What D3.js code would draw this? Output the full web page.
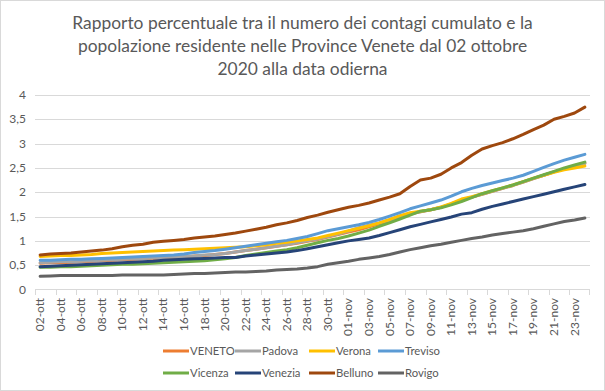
<!DOCTYPE html>
<html>
<head>
<meta charset="utf-8">
<script src="https://cdn.jsdelivr.net/npm/d3@7"></script>
<style>
  body { margin: 0; background: #fff; }
  text { font-family: Lato, "Open Sans", sans-serif; fill: #595959; }
</style>
</head>
<body>
<svg width="605" height="391"></svg>
<script>
// categories (one per day)
const dates = [
  "02-ott","03-ott","04-ott","05-ott","06-ott","07-ott","08-ott","09-ott","10-ott","11-ott",
  "12-ott","13-ott","14-ott","15-ott","16-ott","17-ott","18-ott","19-ott","20-ott","21-ott",
  "22-ott","23-ott","24-ott","25-ott","26-ott","27-ott","28-ott","29-ott","30-ott","31-ott",
  "01-nov","02-nov","03-nov","04-nov","05-nov","06-nov","07-nov","08-nov","09-nov","10-nov",
  "11-nov","12-nov","13-nov","14-nov","15-nov","16-nov","17-nov","18-nov","19-nov","20-nov",
  "21-nov","22-nov","23-nov","24-nov"
];

const titleLines = [
  "Rapporto percentuale tra il numero dei contagi cumulato e la",
  "popolazione residente nelle Province Venete dal 02 ottobre",
  "2020 alla data odierna"
];

const yTicks = [0, 0.5, 1, 1.5, 2, 2.5, 3, 3.5, 4];

// series values
const veneto = [0.54,0.55,0.55,0.56,0.57,0.58,0.59,0.60,0.61,0.62,0.63,0.64,0.65,0.66,0.67,0.69,0.70,0.72,0.74,0.77,
  0.80,0.83,0.86,0.89,0.92,0.95,0.99,1.03,1.08,1.13,1.18,1.23,1.29,1.35,1.41,1.48,1.55,1.60,1.64,1.69,
  1.76,1.84,1.90,1.96,2.02,2.08,2.14,2.21,2.28,2.35,2.42,2.48,2.54,2.60];
const padova = [0.55,0.56,0.57,0.57,0.58,0.59,0.60,0.61,0.62,0.63,0.64,0.65,0.66,0.67,0.68,0.69,0.71,0.72,0.74,0.77,
  0.80,0.83,0.86,0.89,0.92,0.96,1.00,1.04,1.09,1.14,1.20,1.27,1.32,1.37,1.43,1.50,1.56,1.60,1.64,1.69,
  1.76,1.84,1.90,1.96,2.02,2.08,2.14,2.21,2.28,2.35,2.42,2.48,2.54,2.59];
const verona = [0.68,0.69,0.70,0.70,0.71,0.72,0.74,0.75,0.76,0.77,0.78,0.79,0.80,0.81,0.82,0.83,0.84,0.85,0.86,0.87,
  0.88,0.90,0.92,0.95,0.97,1.00,1.03,1.06,1.11,1.16,1.21,1.26,1.31,1.37,1.44,1.52,1.58,1.61,1.64,1.70,
  1.77,1.86,1.91,1.97,2.03,2.09,2.15,2.22,2.29,2.35,2.41,2.46,2.50,2.54];
const treviso = [0.60,0.60,0.61,0.62,0.62,0.63,0.64,0.65,0.66,0.67,0.68,0.69,0.70,0.71,0.73,0.76,0.78,0.80,0.83,0.86,
  0.89,0.92,0.95,0.98,1.01,1.05,1.09,1.15,1.21,1.25,1.29,1.33,1.38,1.44,1.51,1.58,1.66,1.72,1.78,1.84,
  1.92,2.01,2.08,2.14,2.19,2.24,2.29,2.35,2.43,2.51,2.59,2.66,2.72,2.78];
const vicenza = [0.46,0.46,0.47,0.47,0.48,0.49,0.50,0.51,0.52,0.52,0.53,0.54,0.55,0.56,0.57,0.58,0.59,0.61,0.63,0.66,
  0.70,0.73,0.76,0.79,0.82,0.86,0.91,0.96,1.01,1.05,1.10,1.16,1.22,1.30,1.37,1.45,1.53,1.61,1.64,1.68,
  1.74,1.81,1.89,1.97,2.03,2.09,2.15,2.22,2.29,2.36,2.43,2.50,2.56,2.62];
const venezia = [0.47,0.48,0.49,0.50,0.51,0.52,0.53,0.54,0.55,0.56,0.57,0.58,0.60,0.61,0.62,0.63,0.64,0.65,0.66,0.66,
  0.69,0.71,0.73,0.75,0.77,0.80,0.84,0.88,0.92,0.96,1.00,1.03,1.06,1.11,1.17,1.23,1.29,1.34,1.39,1.44,
  1.49,1.55,1.58,1.65,1.71,1.76,1.81,1.86,1.91,1.96,2.01,2.06,2.11,2.16];
const belluno = [0.71,0.73,0.74,0.75,0.77,0.79,0.81,0.84,0.88,0.91,0.93,0.97,0.99,1.01,1.03,1.06,1.08,1.10,1.13,1.16,
  1.20,1.24,1.28,1.33,1.37,1.42,1.48,1.53,1.59,1.64,1.69,1.73,1.78,1.84,1.90,1.97,2.12,2.25,2.29,2.37,
  2.50,2.61,2.76,2.89,2.96,3.02,3.10,3.19,3.29,3.38,3.50,3.56,3.63,3.75];
const rovigo = [0.27,0.28,0.29,0.29,0.29,0.29,0.29,0.29,0.30,0.30,0.30,0.30,0.30,0.31,0.32,0.33,0.33,0.34,0.35,0.36,
  0.36,0.37,0.38,0.40,0.41,0.42,0.44,0.47,0.52,0.55,0.58,0.62,0.65,0.68,0.72,0.77,0.82,0.86,0.90,0.93,
  0.97,1.01,1.05,1.08,1.12,1.15,1.18,1.21,1.25,1.30,1.35,1.40,1.43,1.47];

const seriesNames = ["VENETO","Padova","Verona","Treviso","Vicenza","Venezia","Belluno","Rovigo"];
const seriesValues = [veneto, padova, verona, treviso, vicenza, venezia, belluno, rovigo];
const seriesColors = ["#ED7D31","#A5A5A5","#FFC000","#5B9BD5","#70AD47","#264478","#9E480E","#636363"];

const svg = d3.select("svg");

// chart frame
svg.append("rect")
  .attr("x", 0.5).attr("y", 0.5)
  .attr("width", 604).attr("height", 390)
  .attr("fill", "#fff").attr("stroke", "#D9D9D9");

// title
svg.append("text")
  .attr("text-anchor", "middle")
  .attr("font-size", "17.4px")
  .selectAll("tspan")
  .data(titleLines)
  .enter()
  .append("tspan")
  .attr("x", 302.5)
  .attr("y", (d, i) => 29 + i * 23)
  .text(d => d);

const x = d3.scaleBand().domain(dates).range([35, 590]).padding(0);
const y = d3.scaleLinear().domain([0, 4]).range([289.5, 95]);

// gridlines
svg.append("g")
  .selectAll("line")
  .data(yTicks.filter(d => d > 0))
  .enter()
  .append("line")
  .attr("x1", 35).attr("x2", 590)
  .attr("y1", d => Math.round(y(d)) + 0.5)
  .attr("y2", d => Math.round(y(d)) + 0.5)
  .attr("stroke", "#D9D9D9");

// y labels
svg.append("g")
  .selectAll("text")
  .data(yTicks)
  .enter()
  .append("text")
  .attr("x", 26)
  .attr("y", d => y(d) + 4)
  .attr("text-anchor", "end")
  .attr("font-size", "12px")
  .text(d => String(d).replace(".", ","));

// x axis line and tick marks
svg.append("line")
  .attr("x1", 35).attr("x2", 590)
  .attr("y1", 289.5).attr("y2", 289.5)
  .attr("stroke", "#D9D9D9");

const tickDates = dates.filter((d, i) => i % 2 === 0);
svg.append("g")
  .selectAll("line")
  .data(tickDates)
  .enter()
  .append("line")
  .attr("x1", d => Math.round(x(d)) + 0.5)
  .attr("x2", d => Math.round(x(d)) + 0.5)
  .attr("y1", 289.5).attr("y2", 295)
  .attr("stroke", "#D9D9D9");
svg.append("line")
  .attr("x1", 589.5).attr("x2", 589.5)
  .attr("y1", 289.5).attr("y2", 295)
  .attr("stroke", "#D9D9D9");

// x labels, rotated
svg.append("g")
  .selectAll("text")
  .data(tickDates)
  .enter()
  .append("text")
  .attr("transform", d => `translate(${x(d) + x.bandwidth() / 2 + 4}, 298) rotate(-90)`)
  .attr("text-anchor", "end")
  .attr("font-size", "12px")
  .text(d => d);

// lines
const line = d3.line()
  .x((d, i) => x(dates[i]) + x.bandwidth() / 2)
  .y(d => y(d));

svg.append("g")
  .selectAll("path")
  .data(seriesValues)
  .enter()
  .append("path")
  .attr("d", d => line(d))
  .attr("fill", "none")
  .attr("stroke", (d, i) => seriesColors[i])
  .attr("stroke-width", 3)
  .attr("stroke-linejoin", "round")
  .attr("stroke-linecap", "round");

// legend, 2 rows of 4
const legendCols = [163, 235, 309, 378];
const legendRows = [351, 373];
const legend = svg.append("g")
  .selectAll("g")
  .data(seriesNames)
  .enter()
  .append("g")
  .attr("transform", (d, i) => `translate(${legendCols[i % 4]}, ${legendRows[Math.floor(i / 4)]})`);

legend.append("line")
  .attr("x1", 0).attr("x2", 26)
  .attr("stroke", (d, i) => seriesColors[i])
  .attr("stroke-width", 3);

legend.append("text")
  .attr("x", 27)
  .attr("y", 4)
  .attr("font-size", "11.3px")
  .text(d => d);
</script>
</body>
</html>
